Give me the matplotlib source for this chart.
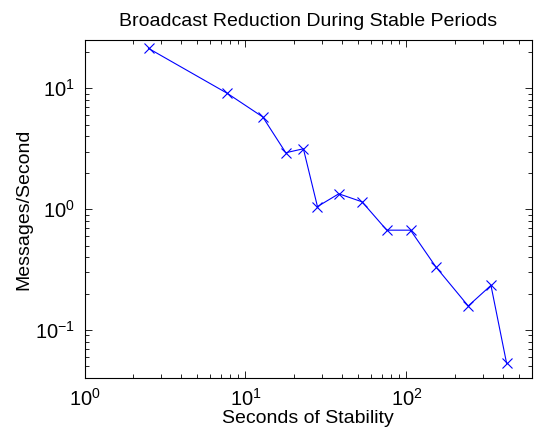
import numpy as np
import matplotlib
matplotlib.use("Agg")
import matplotlib.pyplot as plt

plt.rcParams['font.family'] = ['Liberation Sans', 'DejaVu Sans']
plt.rcParams['mathtext.default'] = 'regular'

# Seconds of stability vs. broadcast rate
seconds = [2.5, 7.7, 12.8, 17.8, 22.9, 28, 38, 53, 75.5, 106, 152, 242, 335, 419]
msgs_per_sec = [21.4, 9.1, 5.8, 2.93, 3.16, 1.05, 1.34, 1.15, 0.67, 0.67,
                0.334, 0.158, 0.234, 0.053]

fig = plt.figure(figsize=(5.34, 4.38), dpi=100)
ax = fig.add_axes([84.5 / 534, 1 - 378.3 / 438, (531.7 - 84.5) / 534, (378.3 - 40) / 438])

ax.loglog(seconds, msgs_per_sec, color='blue', lw=0.8, marker='x', ms=7, mew=0.8)

ax.set_xlim(1, 600)
ax.set_ylim(10 ** -1.4, 10 ** 1.4)

ax.tick_params(which='both', direction='in', top=True, right=True, labelsize=14.5)
ax.tick_params(which='major', length=5, width=0.6, pad=7)
ax.tick_params(which='minor', length=3, width=0.6)
for s in ax.spines.values():
    s.set_linewidth(0.8)

ax.set_title("Broadcast Reduction During Stable Periods", fontsize=14, pad=10)
ax.set_xlabel("Seconds of Stability", fontsize=14, labelpad=0)
ax.set_ylabel("Messages/Second", fontsize=14, labelpad=2)

fig.savefig("out.png", dpi=100)
